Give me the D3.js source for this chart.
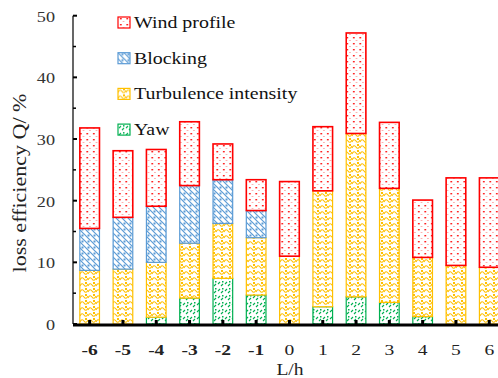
<!DOCTYPE html>
<html>
<head>
<meta charset="utf-8">
<script src="https://cdn.jsdelivr.net/npm/d3@7"></script>
<style>
  body { margin: 0; background: #fff; }
</style>
</head>
<body>
<svg id="chart" width="498" height="378"></svg>
<script>
// values
const categories = ["-6", "-5", "-4", "-3", "-2", "-1", "0", "1", "2", "3", "4", "5", "6"];
const yaw = [0, 0, 1.1, 4.2, 7.4, 4.7, 0, 2.8, 4.4, 3.5, 1.2, 0, 0];
const turbulence = [8.7, 8.9, 8.9, 8.9, 8.9, 9.3, 11.0, 18.8, 26.5, 18.5, 9.6, 9.5, 9.2];
const blocking = [6.8, 8.4, 9.1, 9.35, 7.1, 4.4, 0, 0, 0, 0, 0, 0, 0];
const windProfile = [16.3, 10.8, 9.2, 10.35, 5.8, 5.0, 12.1, 10.4, 16.3, 10.7, 9.3, 14.2, 14.5];
const yTicks = [0, 10, 20, 30, 40, 50];

const keys = ["yaw", "turb", "block", "wind"];
const names = { wind: "Wind profile", block: "Blocking", turb: "Turbulence intensity", yaw: "Yaw" };
const colors = { wind: "#ff0000", block: "#5b9bd5", turb: "#ffc000", yaw: "#00b050" };

const rows = categories.map((c, i) => ({
  cat: c, yaw: yaw[i], turb: turbulence[i], block: blocking[i], wind: windProfile[i]
}));

// pick a serif face that is really installed
function pickSerif() {
  const ctx = document.createElement("canvas").getContext("2d");
  const probe = "mmmmwwwiiilloo Turbulence 0123";
  const base = ["monospace", "sans-serif"].map(f => { ctx.font = "40px " + f; return ctx.measureText(probe).width; });
  const cands = ["Liberation Serif", "DejaVu Serif", "Tinos", "Times New Roman", "Noto Serif", "FreeSerif"];
  for (const c of cands) {
    const w = ["monospace", "sans-serif"].map(f => { ctx.font = "40px '" + c + "', " + f; return ctx.measureText(probe).width; });
    if (w[0] !== base[0] || w[1] !== base[1]) return "'" + c + "', serif";
  }
  return "serif";
}

const svg = d3.select("#chart").attr("font-family", pickSerif());
const x0 = 73, y0 = 324;

const x = d3.scaleBand().domain(categories).range([x0, x0 + 13 * 33.3]).paddingInner(0.41).paddingOuter(0.205);
const y = d3.scaleLinear().domain([0, 50]).range([y0, 15.7]);

// the source text is drawn wide, stretch it horizontally
function stretch(sel, k) {
  sel.each(function () {
    const w = this.getComputedTextLength();
    d3.select(this).attr("textLength", w * k).attr("lengthAdjust", "spacingAndGlyphs");
  });
}

// fill patterns
const defs = svg.append("defs");
let p = defs.append("pattern").attr("id", "p-wind").attr("patternUnits", "userSpaceOnUse").attr("width", 6.5).attr("height", 6);
p.append("rect").attr("width", 6.5).attr("height", 6).attr("fill", "#fff");
p.append("rect").attr("x", 2).attr("y", 1).attr("width", 1.6).attr("height", 1.4).attr("fill", "#ff0000");
p.append("rect").attr("x", 5).attr("y", 4).attr("width", 1).attr("height", 1).attr("fill", "#ff7070");

p = defs.append("pattern").attr("id", "p-block").attr("patternUnits", "userSpaceOnUse").attr("width", 6).attr("height", 6);
p.append("rect").attr("width", 6).attr("height", 6).attr("fill", "#fff");
p.append("path").attr("d", "M0,0 L6,6 M-1,5 L1,7 M5,-1 L7,1").attr("stroke", "#5b9bd5").attr("stroke-width", 1.2);
p.append("rect").attr("x", 3.5).attr("y", 0.5).attr("width", 2).attr("height", 2).attr("fill", "#5b9bd5");

p = defs.append("pattern").attr("id", "p-turb").attr("patternUnits", "userSpaceOnUse").attr("width", 8).attr("height", 6);
p.append("rect").attr("width", 8).attr("height", 6).attr("fill", "#fff");
p.append("path").attr("d", "M0,4 Q2,0 4,3 Q6,6 8,2").attr("fill", "none").attr("stroke", "#ffc000").attr("stroke-width", 1.1);
p.append("rect").attr("x", 5).attr("y", 0).attr("width", 2).attr("height", 2).attr("fill", "#ffc000");

p = defs.append("pattern").attr("id", "p-yaw").attr("patternUnits", "userSpaceOnUse").attr("width", 7).attr("height", 7);
p.append("rect").attr("width", 7).attr("height", 7).attr("fill", "#fff");
p.append("path").attr("d", "M1,4 L3,2 M4,6 L6,4").attr("stroke", "#00b050").attr("stroke-width", 1.1);
p.append("rect").attr("x", 5).attr("y", 1).attr("width", 1.5).attr("height", 1.5).attr("fill", "#00b050");

// stacked bars
const series = d3.stack().keys(keys)(rows);
svg.append("g")
  .selectAll("g")
  .data(series)
  .join("g")
  .attr("fill", d => "url(#p-" + d.key + ")")
  .attr("stroke", d => colors[d.key])
  .attr("stroke-width", d => d.key === "wind" ? 1.6 : 1.2)
  .selectAll("rect")
  .data(d => d.filter(s => s[1] - s[0] > 0))
  .join("rect")
  .attr("x", d => x(d.data.cat))
  .attr("y", d => y(d[1]))
  .attr("width", x.bandwidth())
  .attr("height", d => y(d[0]) - y(d[1]));

// y axis
const yAxis = svg.append("g").attr("transform", "translate(" + x0 + ",0)");
yAxis.append("line").attr("y1", y(50)).attr("y2", y0).attr("stroke", "#000").attr("stroke-width", 1.2);
yAxis.selectAll(".tk")
  .data(d3.range(0, 51, 5))
  .join("line")
  .attr("x1", 0).attr("x2", d => d % 10 === 0 ? 4 : 3)
  .attr("y1", d => y(d)).attr("y2", d => y(d))
  .attr("stroke", "#000")
  .attr("stroke-width", d => d % 10 === 0 ? 2 : 1.5);
svg.append("g")
  .selectAll("text")
  .data(yTicks)
  .join("text")
  .attr("x", 55)
  .attr("y", d => y(d) + 6)
  .attr("text-anchor", "end")
  .attr("font-size", 14)
  .attr("fill", "#333")
  .text(d => d)
  .call(stretch, 1.3);

// x axis
svg.append("line").attr("x1", x0).attr("x2", 498).attr("y1", y0 + 1).attr("y2", y0 + 1)
  .attr("stroke", "#000").attr("stroke-width", 3);
svg.append("g")
  .selectAll("rect")
  .data(categories)
  .join("rect")
  .attr("x", d => x(d) + x.bandwidth() / 2 - 1.5)
  .attr("y", y0 - 4)
  .attr("width", 3).attr("height", 4)
  .attr("fill", "#000");
svg.append("g")
  .selectAll("text")
  .data(categories)
  .join("text")
  .attr("x", d => x(d) + x.bandwidth() / 2)
  .attr("y", 355)
  .attr("text-anchor", "middle")
  .attr("font-size", 15)
  .attr("font-weight", d => d.startsWith("-") ? "bold" : "normal")
  .attr("fill", "#222")
  .text(d => d)
  .call(stretch, 1.3);

svg.append("text").attr("x", 290).attr("y", 375).attr("text-anchor", "middle")
  .attr("font-size", 17).attr("fill", "#222").text("L/h")
  .call(stretch, 1.15);
svg.append("text").attr("transform", "translate(26,183) rotate(-90)").attr("text-anchor", "middle")
  .attr("font-size", 19).attr("fill", "#222").text("loss efficiency Q/ %")
  .call(stretch, 1.16);

// legend
const legendKeys = ["wind", "block", "turb", "yaw"];
const lg = svg.append("g")
  .selectAll("g")
  .data(legendKeys)
  .join("g")
  .attr("transform", (d, i) => "translate(118," + (17 + i * 35.7) + ")");
lg.append("rect").attr("width", 12).attr("height", 11)
  .attr("fill", d => "url(#p-" + d + ")")
  .attr("stroke", d => colors[d]).attr("stroke-width", 1.2);
lg.append("text").attr("x", 16).attr("y", 11).attr("font-size", 17).attr("fill", "#111")
  .text(d => names[d])
  .call(stretch, 1.17);
</script>
</body>
</html>
